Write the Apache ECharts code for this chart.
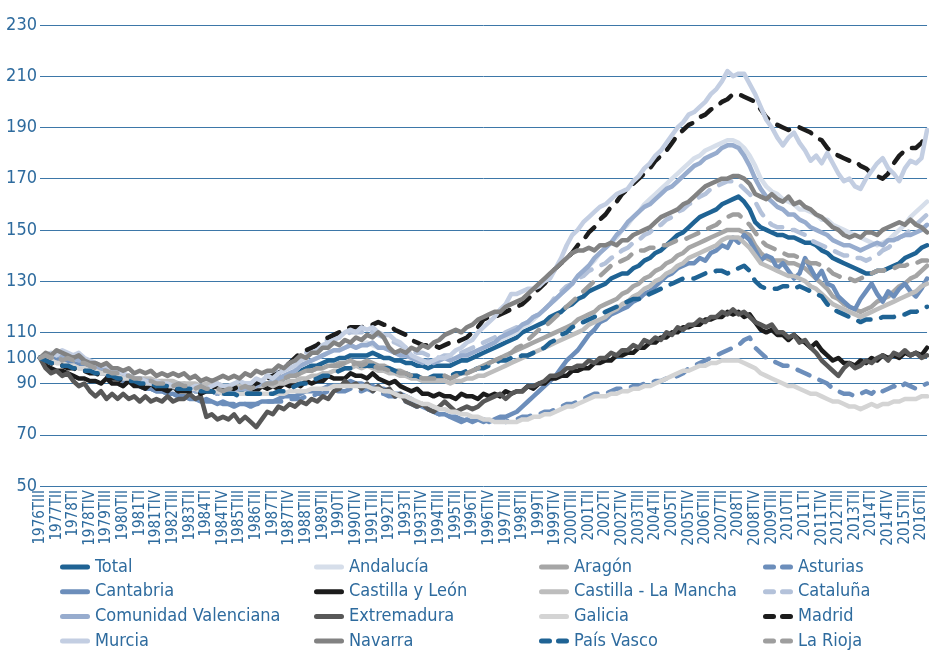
<!DOCTYPE html>
<html><head><meta charset="utf-8">
<script src="https://cdn.jsdelivr.net/npm/echarts@6/dist/echarts.min.js"></script>
<style>html,body{margin:0;padding:0;background:#fff;}#c{width:929px;height:651px;}</style>
</head><body><div id="c"></div>
<script>
const quarterNames = ['TI', 'TII', 'TIII', 'TIV'];
const categories = [];
for (let y = 1976; y <= 2016; y++) {
  for (let q = 1; q <= 4; q++) {
    if (y === 1976 && q < 3) continue;
    if (y === 2016 && q > 3) continue;
    categories.push(y + quarterNames[q - 1]);
  }
}
const yTickLabels = [50, 70, 90, 100, 110, 130, 150, 170, 190, 210, 230];

const total = [
100,99,
101,100,101,99, 98,97,97,96, 96,95,95,94, 93,92,92,91, 90,90,89,89,
89,89,88,88, 88,88,87,87, 87,87,86,87, 86,87,87,88, 87,88,89,89,
90,91,92,93, 94,95,96,97, 97,98,99,99, 100,100,101,101, 101,101,102,101,
100,100,99,99, 98,98,97,97, 96,97,97,97, 97,98,99,99, 100,101,102,103,
104,105,106,107, 108,110,111,112, 113,114,116,117, 118,120,121,123, 124,126,127,128,
129,131,132,133, 133,135,136,138, 139,141,142,144, 146,148,149,151, 153,155,156,157,
158,160,161,162, 163,161,158,153, 151,150,149,148, 148,147,147,146, 145,145,144,142,
141,139,138,137, 136,135,134,133, 133,134,134,135, 136,137,139,140,
141,143,144];

const andalucia = [
100,99,
100,99,98,99, 97,96,96,95, 95,94,94,93, 93,92,92,91, 91,90,90,89,
89,89,88,89, 88,88,87,88, 88,87,88,88, 87,88,88,89, 88,89,90,90,
91,92,93,94, 95,97,98,99, 100,101,102,103, 103,104,105,104, 105,106,105,104,
104,103,102,101, 101,100,99,99, 98,99,99,100, 99,100,101,102, 102,103,104,105,
106,107,108,109, 110,112,113,115, 117,119,121,123, 125,127,129,132, 134,136,138,141,
143,145,147,150, 152,155,157,160, 162,164,166,168, 170,172,174,176, 178,179,181,182,
183,184,185,185, 184,182,179,175, 170,167,165,164, 162,161,160,158, 158,157,156,154,
154,152,151,150, 149,148,147,146, 145,144,145,146, 148,150,152,155,
157,159,161];

const aragon = [
100,99,
100,99,98,99, 98,97,97,96, 96,95,95,94, 94,93,93,92, 92,91,91,90,
91,90,90,89, 90,89,89,88, 89,89,89,88, 88,88,88,89, 88,89,89,90,
90,91,92,93, 93,94,95,95, 96,96,97,97, 98,98,99,98, 98,99,98,97,
97,96,95,95, 94,93,93,92, 92,92,92,93, 92,93,94,94, 95,96,97,98,
99,100,101,102, 103,104,105,106, 107,108,109,110, 111,112,113,115, 116,117,118,120,
121,122,123,125, 126,128,129,131, 132,134,135,137, 138,140,141,143, 144,145,146,147,
148,149,150,150, 150,149,148,144, 141,139,138,138, 138,137,137,136, 135,133,131,129,
127,124,123,121, 120,119,118,119, 120,122,123,124, 126,128,129,131,
132,134,136];

const asturias = [
100,99,
98,99,98,97, 97,96,96,95, 95,94,93,93, 92,91,91,90, 89,88,88,87,
87,86,86,85, 85,84,84,84, 83,83,83,82, 82,82,82,82, 82,82,82,83,
83,83,83,84, 84,84,85,85, 86,86,87,87, 87,87,88,87, 87,88,87,86,
86,85,85,84, 83,82,81,81, 80,79,78,78, 77,77,76,76, 76,76,75,76,
75,76,75,76, 76,77,77,78, 78,79,79,80, 81,82,82,83, 84,85,86,86,
86,87,88,88, 88,89,89,90, 90,91,91,92, 92,93,94,96, 97,98,99,100,
101,102,103,104, 105,107,108,104, 102,100,99,98, 97,97,96,95, 94,93,92,91,
90,88,87,86, 86,85,86,87, 86,88,87,88, 89,88,90,89,
88,89,90];

const cantabria = [
100,101,
99,100,98,99, 97,98,96,96, 95,94,94,93, 92,91,91,90, 89,88,88,87,
87,86,86,85, 85,84,84,83, 84,83,82,83, 82,81,82,82, 81,82,83,83,
83,84,85,85, 85,86,87,87, 87,88,89,89, 89,90,91,90, 90,89,89,88,
88,87,86,86, 85,84,82,81, 80,79,78,78, 77,76,75,76, 75,76,76,75,
76,77,77,78, 79,81,83,85, 87,89,91,93, 96,99,101,103, 106,109,111,114,
115,117,118,119, 120,122,123,125, 126,128,130,132, 133,135,136,137, 137,139,138,141,
142,144,143,147, 145,148,146,142, 138,140,139,135, 137,134,131,133, 139,135,131,134,
129,128,124,122, 120,119,123,126, 129,125,122,126, 124,127,129,126,
124,127,131];

const castillaLeon = [
100,97,
96,95,95,94, 93,92,92,91, 91,90,92,90, 90,89,91,89, 89,88,90,88,
88,87,89,87, 88,87,89,87, 88,87,89,87, 88,87,89,88, 88,87,89,88,
89,88,90,89, 90,89,91,90, 91,91,93,92, 92,92,94,93, 93,92,94,92,
91,90,91,89, 88,87,88,86, 86,85,86,85, 85,84,86,85, 85,84,86,85,
86,85,87,86, 87,87,89,88, 90,90,92,92, 93,93,95,95, 96,96,98,98,
99,99,101,101, 102,102,104,104, 106,106,108,108, 110,110,112,112, 113,113,115,115,
116,116,118,117, 118,116,117,114, 111,110,111,109, 109,107,109,107, 106,104,106,103,
101,99,100,98, 98,97,99,98, 100,99,101,100, 101,100,102,101,
102,101,104];

const castillaMancha = [
100,99,
99,98,98,97, 97,96,96,95, 95,94,94,93, 93,93,93,92, 92,92,92,91,
91,91,91,90, 90,90,90,89, 90,90,90,89, 89,89,89,89, 89,89,89,90,
89,90,90,91, 91,92,92,93, 93,94,94,95, 95,96,96,97, 96,97,96,95,
95,94,94,93, 93,92,92,91, 91,91,91,91, 90,91,91,92, 92,93,93,94,
95,96,97,98, 99,100,101,102, 103,104,105,106, 107,108,109,110, 111,113,114,115,
116,118,119,121, 122,124,125,127, 128,130,131,133, 134,136,137,139, 140,141,142,143,
144,146,147,147, 147,145,143,140, 137,136,135,134, 133,132,132,131, 130,128,127,125,
123,121,120,119, 118,117,116,117, 118,119,120,121, 122,123,124,125,
126,128,129];

const cataluna = [
100,100,
101,101,102,100, 100,99,99,98, 97,96,96,95, 94,93,93,92, 92,91,91,90,
90,89,89,89, 88,88,88,87, 88,88,88,88, 88,89,89,90, 90,91,92,93,
93,95,96,98, 99,101,102,104, 105,106,107,108, 108,109,110,110, 110,111,110,109,
108,107,106,105, 104,103,102,102, 101,101,100,101, 101,102,102,103, 104,105,106,107,
108,109,110,111, 112,113,114,116, 117,119,121,124, 126,128,129,131, 132,134,135,136,
137,139,140,142, 143,145,146,148, 149,151,152,154, 155,157,158,160, 161,163,164,166,
167,168,169,169, 168,166,164,161, 157,154,152,151, 151,150,150,149, 148,146,145,144,
143,142,141,140, 140,139,139,138, 139,140,142,143, 145,147,148,150,
152,154,156];

const valenciana = [
100,101,
101,102,100,101, 100,99,99,97, 97,96,96,95, 94,93,93,92, 92,91,91,90,
90,89,89,88, 88,88,87,88, 87,87,86,87, 86,87,88,88, 88,89,90,90,
91,92,93,94, 95,97,98,99, 100,101,102,103, 103,104,105,104, 105,105,106,104,
104,103,102,101, 101,100,99,98, 99,98,99,100, 99,100,101,101, 102,103,104,105,
106,108,109,110, 111,113,114,116, 117,119,121,123, 125,127,129,132, 134,136,139,141,
143,145,148,150, 153,155,157,159, 160,162,164,166, 167,169,171,173, 175,176,178,179,
180,182,183,183, 182,179,175,170, 166,163,161,159, 158,156,156,154, 153,151,150,149,
148,146,145,144, 144,143,142,143, 144,145,144,146, 146,147,148,148,
149,150,152];

const extremadura = [
100,96,
94,95,93,94, 91,89,90,87, 85,87,84,86, 84,86,84,85, 83,85,83,84,
83,85,83,84, 84,86,84,85, 77,78,76,77, 76,78,75,77, 75,73,76,79,
78,81,80,82, 81,83,82,84, 83,85,84,87, 88,91,89,90, 88,90,87,89,
87,88,85,86, 83,82,81,82, 80,79,81,83, 81,79,80,81, 80,81,83,84,
85,86,84,86, 87,87,89,89, 90,91,93,93, 94,96,96,97, 97,99,98,100,
100,102,101,103, 103,105,104,107, 106,108,107,110, 109,112,111,113, 113,115,114,116,
116,118,117,119, 117,118,116,114, 113,112,113,110, 110,108,109,106, 107,104,102,99,
97,95,93,96, 98,96,97,99, 98,100,101,99, 102,101,103,101,
102,100,101];

const galicia = [
100,99,
99,98,98,97, 97,96,96,95, 95,94,94,93, 93,92,92,91, 91,90,90,89,
89,89,89,88, 88,88,88,87, 87,87,87,86, 86,86,86,86, 86,86,86,86,
86,86,86,87, 87,87,87,88, 88,88,88,89, 89,89,89,89, 89,89,88,88,
87,87,86,85, 85,84,83,82, 82,81,80,80, 79,79,78,78, 77,77,76,76,
75,75,75,75, 75,76,76,77, 77,78,78,79, 80,81,81,82, 83,84,85,85,
85,86,86,87, 87,88,88,89, 89,90,91,92, 93,94,95,95, 96,97,97,98,
98,99,99,99, 99,98,97,96, 94,93,92,91, 90,89,89,88, 87,86,86,85,
84,83,83,82, 81,81,80,81, 82,81,82,82, 83,83,84,84,
84,85,85];

const madrid = [
100,99,
98,97,97,96, 96,95,95,94, 94,93,93,92, 92,91,91,90, 90,89,89,89,
88,88,88,87, 87,87,87,86, 87,87,87,88, 88,88,89,89, 89,90,91,92,
93,94,96,98, 100,102,103,104, 105,107,108,109, 110,111,112,112, 112,113,113,114,
113,113,111,110, 109,107,106,105, 105,105,104,105, 106,106,107,108, 110,112,115,116,
116,117,118,119, 120,121,123,125, 127,129,132,135, 137,139,141,144, 146,149,151,154,
156,159,161,164, 166,168,170,172, 174,177,179,181, 184,187,189,191, 192,194,195,197,
198,200,201,203, 203,202,201,200, 197,194,192,191, 190,189,190,190, 189,188,186,185,
182,180,179,178, 177,177,175,174, 172,171,170,172, 176,179,181,182,
182,184,187];

const murcia = [
100,101,
102,101,103,102, 101,102,100,99, 98,97,97,95, 95,94,93,92, 92,91,90,91,
90,90,89,90, 89,88,89,89, 88,89,90,89, 89,90,91,90, 90,92,91,93,
92,94,95,96, 97,99,100,102, 103,105,106,107, 108,110,111,110, 112,111,112,110,
109,109,107,106, 104,101,100,99, 98,99,100,100, 101,103,104,106, 107,110,112,114,
116,119,121,125, 125,126,127,127, 128,130,131,135, 139,144,148,150, 153,155,157,159,
160,162,164,165, 166,169,171,174, 176,179,181,184, 187,190,192,195, 196,198,200,203,
205,208,212,210, 211,211,207,203, 198,193,190,186, 183,186,188,184, 181,177,179,176,
180,176,172,169, 170,167,166,170, 173,176,178,174, 172,169,174,177,
176,178,189];

const navarra = [
100,102,
101,103,102,101, 100,101,99,98, 98,97,98,96, 96,95,96,94, 95,94,95,93,
94,93,94,93, 94,92,93,91, 92,91,92,93, 92,93,92,94, 93,95,94,95,
95,97,96,98, 99,101,100,102, 102,104,104,106, 105,107,106,108, 107,109,108,110,
108,104,102,103, 102,104,103,105, 104,106,107,109, 110,111,110,112, 113,115,116,117,
118,118,120,121, 122,123,125,127, 129,131,133,135, 137,139,141,142, 142,143,142,144,
144,145,144,146, 146,148,149,150, 151,153,155,156, 157,158,160,161, 163,165,167,168,
169,170,170,171, 171,170,168,164, 163,162,164,162, 161,163,160,161, 159,158,156,155,
153,151,150,148, 147,148,147,149, 149,148,150,151, 152,153,152,154,
152,151,149];

const paisVasco = [
100,99,
98,98,97,97, 96,96,95,95, 94,94,93,93, 92,92,91,91, 90,90,90,89,
89,89,88,88, 88,88,87,87, 87,87,86,86, 86,86,85,86, 86,86,86,86,
86,87,87,88, 89,90,90,91, 92,93,93,94, 95,96,96,97, 97,97,97,96,
96,96,95,94, 94,93,93,92, 92,93,93,93, 93,94,94,95, 95,96,96,97,
98,99,99,100, 100,101,101,102, 103,104,106,107, 109,110,112,113, 114,115,116,117,
118,119,120,121, 122,123,123,124, 125,126,127,128, 129,130,131,131, 131,132,133,133,
134,134,133,134, 135,136,134,130, 128,127,127,127, 128,128,127,128, 127,126,125,124,
121,119,118,117, 116,115,114,115, 115,115,116,116, 116,117,117,118,
118,119,120];

const rioja = [
100,101,
100,101,99,100, 99,98,98,97, 96,95,95,94, 94,93,93,92, 92,91,91,90,
90,90,89,90, 89,89,88,89, 88,88,88,87, 88,88,88,89, 88,89,89,90,
90,91,92,93, 93,94,95,95, 96,96,97,97, 97,98,97,98, 97,98,97,96,
96,95,95,94, 94,93,93,92, 92,92,92,93, 92,93,94,94, 95,96,97,98,
99,100,101,102, 104,105,107,109, 111,112,114,116, 118,120,122,124, 126,128,130,132,
134,136,137,138, 139,141,142,142, 143,143,144,144, 145,146,146,147, 148,149,150,151,
152,154,155,156, 156,154,152,149, 146,144,143,142, 141,140,140,139, 138,137,137,136,
135,133,132,131, 131,130,131,132, 133,134,134,135, 135,136,136,137,
137,138,138];

const seriesNames = ['Total', 'Andalucía', 'Aragón', 'Asturias', 'Cantabria', 'Castilla y León',
  'Castilla - La Mancha', 'Cataluña', 'Comunidad Valenciana', 'Extremadura', 'Galicia', 'Madrid',
  'Murcia', 'Navarra', 'País Vasco', 'La Rioja'];
const seriesData = [total, andalucia, aragon, asturias, cantabria, castillaLeon, castillaMancha,
  cataluna, valenciana, extremadura, galicia, madrid, murcia, navarra, paisVasco, rioja];
const seriesColors = ['#1f6394', '#d6deea', '#a6a6a6', '#6c8ebb', '#6c8ebb', '#1c1c1c', '#bdbdbd',
  '#b4c2da', '#97acce', '#585858', '#d4d4d4', '#1c1c1c', '#c3cee2', '#828282', '#1f6394', '#9e9e9e'];
const seriesDashed = [false, false, false, true, false, false, false, true, false, false, false, true,
  false, false, true, true];

const legendColumns = [
  ['Total', 'Cantabria', 'Comunidad Valenciana', 'Murcia'],
  ['Andalucía', 'Castilla y León', 'Extremadura', 'Navarra'],
  ['Aragón', 'Castilla - La Mancha', 'Galicia', 'País Vasco'],
  ['Asturias', 'Cataluña', 'Madrid', 'La Rioja']
];
const legendLeft = [60, 314, 539, 763];

const TEXT = '#2e6b9e';
const GRID = '#3d77a8';
const FONT = "'DejaVu Sans Condensed', 'Liberation Sans Narrow', sans-serif";
const ICON_SOLID = 'path://M2.5,0H27.5A2.5,2.5,0,0,1,27.5,5H2.5A2.5,2.5,0,0,1,2.5,0Z';
const ICON_DASH = 'path://M2.5,0H10.5A2.5,2.5,0,0,1,10.5,5H2.5A2.5,2.5,0,0,1,2.5,0ZM19.5,0H27.5A2.5,2.5,0,0,1,27.5,5H19.5A2.5,2.5,0,0,1,19.5,0Z';

const splitColors = [];
for (let v = 50; v <= 230; v += 10) splitColors.push(yTickLabels.includes(v) ? GRID : 'rgba(0,0,0,0)');

const chart = echarts.init(document.getElementById('c'), null, { renderer: 'canvas' });
chart.setOption({
  animation: false,
  backgroundColor: '#ffffff',
  grid: { left: 40, right: 1, top: 25, bottom: 165, containLabel: false },
  legend: legendColumns.map((col, k) => ({
    orient: 'vertical',
    left: legendLeft[k],
    top: 557,
    height: 110,
    padding: 0,
    itemGap: 4.7,
    itemWidth: 30,
    itemHeight: 5,
    selectedMode: false,
    itemStyle: { borderWidth: 0 },
    textStyle: { color: TEXT, fontSize: 18, fontFamily: FONT, lineHeight: 20 },
    data: col.map(n => ({ name: n, icon: seriesDashed[seriesNames.indexOf(n)] ? ICON_DASH : ICON_SOLID }))
  })),
  xAxis: {
    type: 'category',
    data: categories,
    boundaryGap: false,
    axisLine: { show: false },
    axisTick: { show: false },
    axisLabel: { interval: 2, rotate: 90, color: TEXT, fontSize: 15, fontFamily: FONT, margin: 4 },
    splitLine: { show: false }
  },
  yAxis: {
    type: 'value',
    min: 50, max: 230, interval: 10,
    axisLine: { show: false },
    axisTick: { show: false },
    axisLabel: {
      color: TEXT, fontSize: 18, fontFamily: FONT, margin: 3,
      formatter: v => (yTickLabels.includes(v) ? String(v) : '')
    },
    splitLine: { show: true, lineStyle: { color: splitColors, width: 1 } }
  },
  series: seriesNames.map((name, i) => ({
    name,
    type: 'line',
    data: seriesData[i],
    symbol: 'none',
    showSymbol: false,
    silent: true,
    color: seriesColors[i],
    itemStyle: { color: seriesColors[i] },
    lineStyle: {
      width: 4.5,
      color: seriesColors[i],
      type: seriesDashed[i] ? [13, 11] : 'solid',
      cap: 'round',
      join: 'round'
    },
    emphasis: { disabled: true }
  }))
});
</script></body></html>
